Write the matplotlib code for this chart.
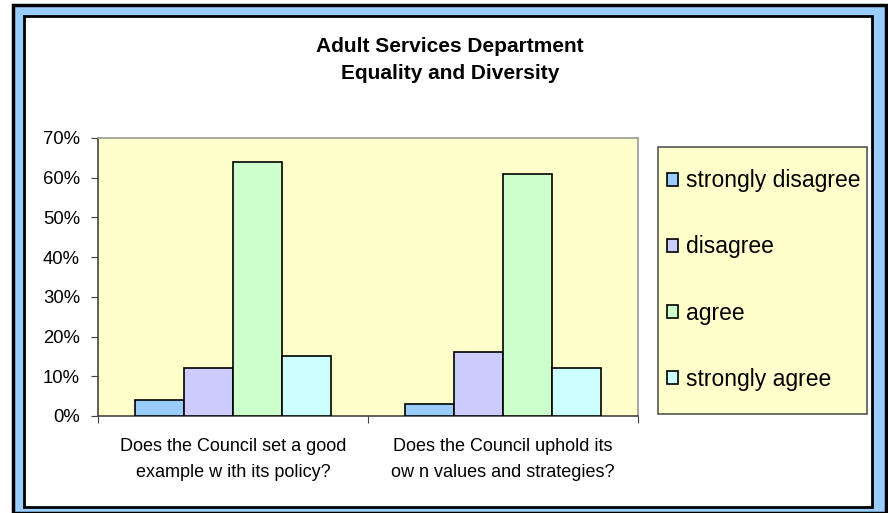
import matplotlib
matplotlib.use("Agg")
import matplotlib.pyplot as plt
import numpy as np
from matplotlib.patches import Rectangle, Patch

plt.rcParams['font.family'] = ['Liberation Sans', 'DejaVu Sans']

categories = ["Does the Council set a good\nexample w ith its policy?",
              "Does the Council uphold its\now n values and strategies?"]
series_names = ["strongly disagree", "disagree", "agree", "strongly agree"]
strongly_disagree = [4, 3]
disagree = [12, 16]
agree = [64, 61]
strongly_agree = [15, 12]
series_values = [strongly_disagree, disagree, agree, strongly_agree]
colors = ["#99CCFF", "#CCCCFF", "#CCFFCC", "#CCFFFF"]
yticks = [0, 10, 20, 30, 40, 50, 60, 70]
title = "Adult Services Department\nEquality and Diversity"

W, H = 888, 513
fig = plt.figure(figsize=(W / 100, H / 100), dpi=100)

def fx(x):
    return x / W

def fy(y):
    return 1 - y / H

# frame
fig.patches.append(Rectangle((fx(13), fy(513)), fx(886) - fx(13), fy(5) - fy(513),
                             transform=fig.transFigure, facecolor="#99CCFF",
                             edgecolor="black", linewidth=2.5, zorder=-10))
fig.patches.append(Rectangle((fx(24), fy(507)), fx(872) - fx(24), fy(16) - fy(507),
                             transform=fig.transFigure, facecolor="white",
                             edgecolor="black", linewidth=2, zorder=-9))
# legend box
fig.patches.append(Rectangle((fx(658), fy(414)), fx(867) - fx(658), fy(147) - fy(414),
                             transform=fig.transFigure, facecolor="#FFFFCC",
                             edgecolor="#555555", linewidth=1.2, zorder=-8))

ax = fig.add_axes([fx(98), fy(416), fx(638) - fx(98), fy(138) - fy(416)])
ax.set_facecolor("#FFFFCC")

n = len(series_values)
gap = 1.5
w = 1.0 / (n + gap)
x = np.arange(len(categories))
for i, (vals, c, name) in enumerate(zip(series_values, colors, series_names)):
    offs = (i - (n - 1) / 2) * w
    ax.bar(x + offs, vals, width=w, color=c, edgecolor="black", linewidth=1.2,
           label=name, zorder=3)

ax.set_xlim(-0.5, len(categories) - 0.5)
ax.set_ylim(0, 70)
ax.set_yticks(yticks)
ax.set_yticklabels([f"{v}%" for v in yticks], fontsize=13.3)
ax.set_xticks(np.arange(len(categories) + 1) - 0.5)
ax.set_xticklabels([])
ax.set_xticks(x, minor=True)
ax.set_xticklabels(categories, minor=True, fontsize=13, linespacing=1.65)
ax.tick_params(axis='x', which='minor', length=0, pad=16)
ax.tick_params(axis='x', which='major', length=5, direction='out', color="#444444")
ax.tick_params(axis='y', length=5, direction='out', color="#444444", pad=8)

for s in ["left", "bottom"]:
    ax.spines[s].set_color("#444444")
    ax.spines[s].set_linewidth(1.2)
for s in ["top", "right"]:
    ax.spines[s].set_color("#999999")
    ax.spines[s].set_linewidth(1.2)

fig.text(fx(450), fy(60), title, ha="center", va="center", fontsize=15,
         fontweight="bold", linespacing=1.55)

handles = [Patch(facecolor=c, edgecolor="black", linewidth=1.2) for c in colors]
leg = fig.legend(handles, series_names,
                 bbox_to_anchor=(fx(667), fy(280)),
                 bbox_transform=fig.transFigure, loc="center left",
                 fontsize=16.5, frameon=False,
                 handlelength=0.5, handleheight=0.5, handletextpad=0.35,
                 labelspacing=1.88, borderpad=0, borderaxespad=0)

fig.savefig("out.png", dpi=100)
